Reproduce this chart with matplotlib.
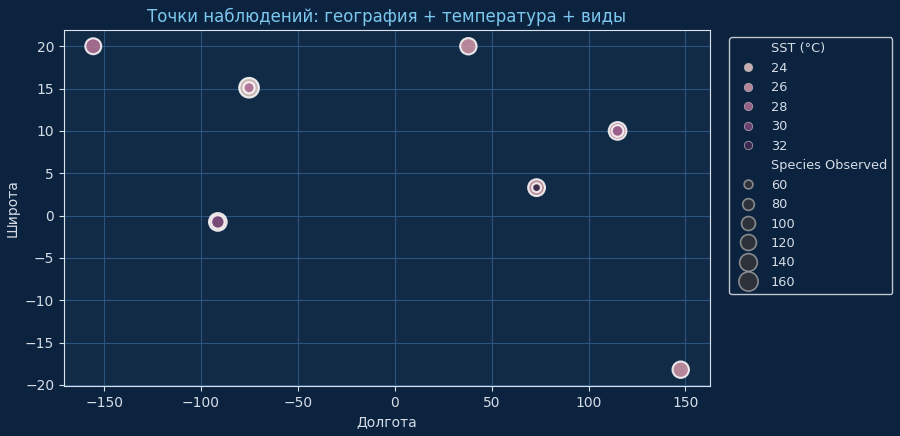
import matplotlib
matplotlib.use('Agg')
import matplotlib.pyplot as plt
from matplotlib.lines import Line2D
import seaborn as sns
import pandas as pd

# observation points (some sites visited twice)
lon = [-155.6, -75.2, -75.2, -91.3, -91.3, 38.0, 73.2, 73.2, 115.0, 115.0, 147.6]
lat = [20.0, 15.1, 15.1, -0.75, -0.75, 20.0, 3.3, 3.3, 10.0, 10.0, -18.2]
sst = [27.5, 23.6, 28.0, 25.5, 30.5, 26.0, 25.5, 32.8, 25.5, 29.0, 26.0]
species = [120, 165, 75, 140, 95, 125, 130, 60, 140, 80, 125]

df = pd.DataFrame({'lon': lon, 'lat': lat, 'SST (°C)': sst, 'Species Observed': species})

bg = '#0c2340'
axbg = '#112a45'
txt = '#d6dde6'

fig = plt.figure(figsize=(9, 4.36), dpi=100, facecolor=bg)
ax = fig.add_axes([0.071, 0.115, 0.718, 0.816])
ax.set_facecolor(axbg)

sns.scatterplot(data=df, x='lon', y='lat', hue='SST (°C)', size='Species Observed',
                sizes=(40, 200), edgecolor='white', linewidth=1.5, alpha=0.85, ax=ax)

ax.grid(True, color='#2b5580', linewidth=0.8)
ax.set_axisbelow(True)
for s in ax.spines.values():
    s.set_color('#dde3ea')
ax.tick_params(colors=txt, labelsize=10)
ax.set_xlabel('Долгота', color=txt, fontsize=10)
ax.set_ylabel('Широта', color=txt, fontsize=10)
ax.set_title('Точки наблюдений: география + температура + виды', color='#7cc8ee', fontsize=12)

leg = ax.legend(loc='upper left', bbox_to_anchor=(1.02, 0.998), facecolor=bg,
                edgecolor='#c0c6cc', fontsize=9.3, labelcolor=txt, framealpha=1)

group = 0
for h, t in zip(leg.legend_handles, leg.get_texts()):
    lab = t.get_text()
    if lab == 'Species Observed':
        group = 1
    if not lab.replace('.', '').isdigit():
        continue
    if isinstance(h, Line2D):
        if group == 0:
            h.set_markeredgecolor('#b8b0b8')
            h.set_markeredgewidth(0.6)
            h.set_markersize(6)
        else:
            h.set_markerfacecolor('#333438')
            h.set_markeredgecolor('#9a9a9a')
            h.set_markeredgewidth(1.2)
    else:
        if group == 0:
            h.set_edgecolor('#b8b0b8')
            h.set_linewidth(0.6)
        else:
            h.set_facecolor('#333438')
            h.set_edgecolor('#9a9a9a')

fig.savefig('out.png', dpi=100, facecolor=bg)
